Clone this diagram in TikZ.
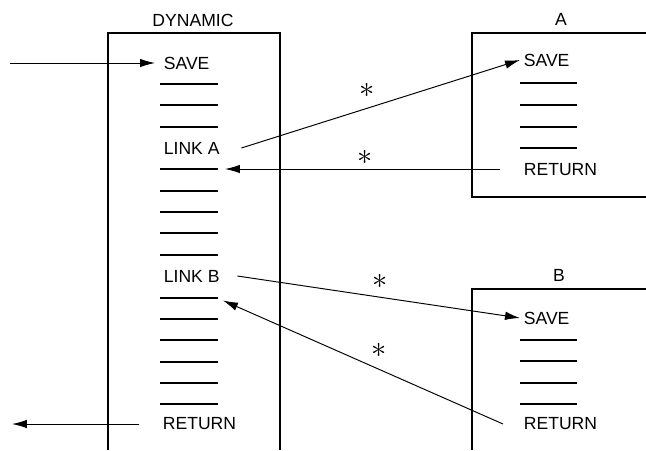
\documentclass[tikz,border=0pt]{standalone}
\usepackage{fontspec}
\setmainfont{Liberation Sans}
\usetikzlibrary{arrows.meta}
\begin{document}
\begin{tikzpicture}[x=0.02cm,y=-0.02cm]
		\tikzset{entry/.style = {anchor=west, inner xsep=2pt, inner ysep=0pt, font=\fontsize{10}{12}\selectfont},
			title/.style = {font=\fontsize{10}{12}\selectfont},
			frame/.style = {line width=1.1pt},
			blank/.style = {line width=0.7pt},
			link/.style = {line width=0.55pt, -{Latex[length=3mm,width=1.7mm]}},
			star/.style = {font=\LARGE}}

		\useasboundingbox (0,0) rectangle (646,450);

		% frames
		\draw[frame] (108,450) -- (108,33) -- (280,33) -- (280,450);
		\draw[frame] (646,33) -- (472,33) -- (472,197) -- (646,197);
		\draw[frame] (646,289) -- (472,289) -- (472,450);

		\node[title] (D) at (193,20) {DYNAMIC};
		\node[title] (A) at (561,19) {A};
		\node[title] (B) at (559,275) {B};

		% dynamic
		\node[entry] (D_save) at (160,63) {SAVE};
		\node[entry] (D_linkA) at (160,148) {LINK A};
		\node[entry] (D_linkB) at (160,276) {LINK B};
		\node[entry] (D_ret) at (159,424) {RETURN};
		\foreach \y [count=\i] in {84,105,127,169,191,212,233,255,298,319,340,362,383,404}
			\draw[blank] (160,\y) -- (218,\y) coordinate (dl\i);

		% A
		\node[entry] (A_save) at (520,60) {SAVE};
		\node[entry] (A_ret) at (520,170) {RETURN};
		\foreach \y in {83,105,127,148}
			\draw[blank] (520,\y) -- (577,\y);

		% B
		\node[entry] (B_save) at (520,318) {SAVE};
		\node[entry] (B_ret) at (520,424) {RETURN};
		\foreach \y in {340,361,383,404}
			\draw[blank] (520,\y) -- (577,\y);

		\coordinate (in) at (10,63);
		\coordinate (out) at (12,424);

		\draw[link] (in) -- ([xshift=-1mm]D_save.west);
		\draw[link] ([xshift=3.6mm]D_linkA.east) -- (A_save.west);
		\draw[link] ([xshift=-4mm]A_ret.west |- dl4) -- ([xshift=1.4mm]dl4);
		\draw[link] ([xshift=2.8mm]D_linkB.east) -- (B_save.west);
		\draw[link] ([xshift=-3.4mm]B_ret.west) -- ([xshift=1mm,yshift=-0.5mm]dl9);
		\draw[link] ([xshift=-4mm]D_ret.west) -- (out);

		\node[star] (s1) at (367,90) {$\ast$};
		\node[star] (s2) at (365,157) {$\ast$};
		\node[star] (s3) at (380,281) {$\ast$};
		\node[star] (s4) at (379,350) {$\ast$};

	\end{tikzpicture}
\end{document}
